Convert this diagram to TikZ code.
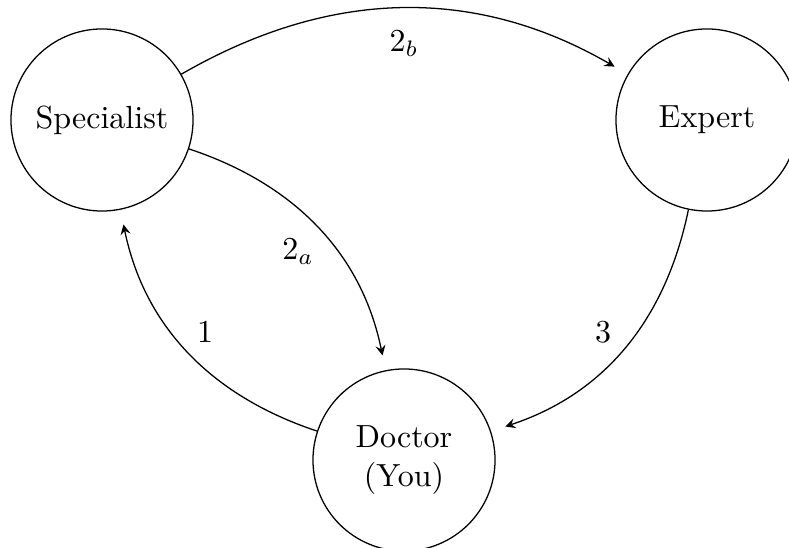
\documentclass[tikz,border=0pt]{standalone}
\usetikzlibrary{arrows}
\begin{document}
\begin{tikzpicture}[x=0.010989cm, y=0.010989cm,
  agent/.style={draw, circle, minimum size=2cm, inner sep=0pt, align=center},
  flow/.style={->, >=stealth, shorten >=4.7pt, bend left=30},
  tag/.style={inner sep=0pt}]
  \useasboundingbox (0,0) rectangle (789,548);
  % the three parties
  \node[agent] (spec) at (102,428) {Specialist};
  \node[agent] (exp)  at (707,428) {Expert};
  \node[agent] (doc)  at (404,88)  {Doctor\\(You)};
  % referrals between them
  \draw[flow] (doc)  to (spec);
  \draw[flow] (spec) to (doc);
  \draw[flow] (spec) to (exp);
  \draw[flow] (exp)  to (doc);
  % step numbers
  \node[tag] (s1)  at (205,216) {1};
  \node[tag] (s2a) at (298,296) {$2_a$};
  \node[tag] (s2b) at (404,504) {$2_b$};
  \node[tag] (s3)  at (603,216) {3};
\end{tikzpicture}
\end{document}
